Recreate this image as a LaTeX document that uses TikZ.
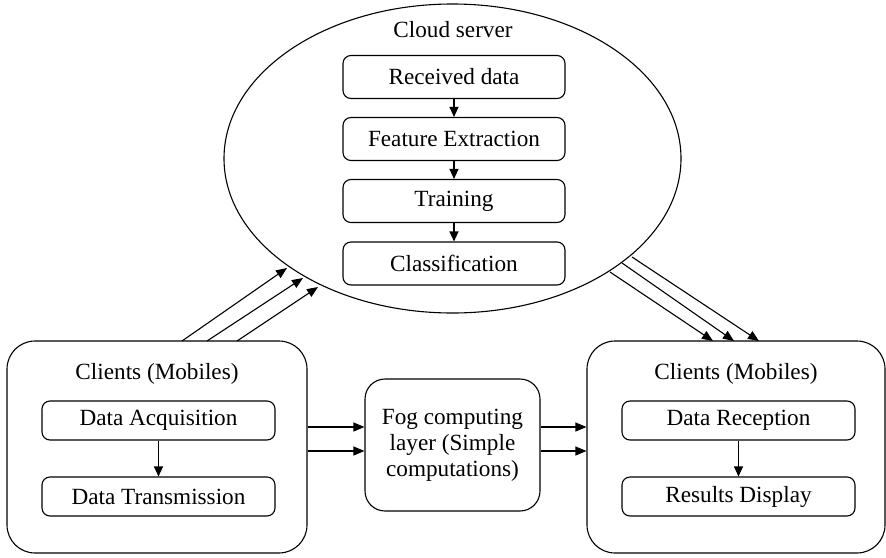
\documentclass[tikz,border=0pt]{standalone}
\usepackage{fontspec}
\setmainfont{Liberation Serif}
\usetikzlibrary{shapes.geometric,arrows.meta,calc}
\begin{document}
\begin{tikzpicture}[x=1pt,y=-1pt,
  font=\rmfamily\fontsize{23.2}{26}\selectfont,
  line width=1.1pt,
  inbox/.style={draw,rounded corners=8pt,minimum width=222pt,minimum height=43pt,inner sep=0pt},
  clbox/.style={draw,rounded corners=8pt,minimum width=233pt,minimum height=39pt,inner sep=0pt},
  outbox/.style={draw,rounded corners=28pt,minimum width=300pt,minimum height=212pt,inner sep=0pt},
  arr/.style={-{Triangle[length=11pt,width=9pt]}},
  sarr/.style={-{Triangle[length=10pt,width=9pt]}}
]
\useasboundingbox (0,0) rectangle (886,557);

% cloud
\node[draw,ellipse,minimum width=457pt,minimum height=309pt,inner sep=0pt] (cloud) at (452.5,158.5) {};
\node (cloudlbl) at (453,30) {Cloud server};
\node[inbox] (rd) at (454,77) {Received data};
\node[inbox] (fe) at (454,139) {Feature Extraction};
\node[inbox] (tr) at (454,201) {Training};
\node[inbox] (cl) at (454,263.5) {Classification};
\draw[sarr] (rd) -- (fe);
\draw[sarr] (fe) -- (tr);
\draw[sarr] (tr) -- (cl);

% left clients
\node[outbox] (lc) at (157,447) {};
\node (lclbl) at (157,374) {Clients (Mobiles)};
\node[clbox] (da) at (158.5,420.5) {Data Acquisition};
\node[clbox] (dt) at (158.5,496.5) {Data Transmission};
\draw[sarr] (da) -- (dt);

% right clients
\node[outbox,minimum width=298pt] (rc) at (736,447) {};
\node (rclbl) at (736,374) {Clients (Mobiles)};
\node[clbox] (dr) at (738.5,420.5) {Data Reception};
\node[clbox] (rdp) at (738.5,496.5) {Results Display};
\draw[sarr] (dr) -- (rdp);

% fog
\node[draw,rounded corners=20pt,minimum width=175pt,minimum height=132pt,inner sep=0pt,align=center] (fog) at (452.5,445) {Fog computing\\layer (Simple\\computations)};

% horizontal arrows
\coordinate (h1) at (0,427);
\coordinate (h2) at (0,451);
\draw[arr] (lc.east |- h1) -- (fog.west |- h1);
\draw[arr] (lc.east |- h2) -- (fog.west |- h2);
\draw[arr] (fog.east |- h1) -- (rc.west |- h1);
\draw[arr] (fog.east |- h2) -- (rc.west |- h2);

% left clients to cloud
\coordinate (ls1) at (182,341); \coordinate (le1) at (287,268);
\coordinate (ls2) at (207,341); \coordinate (le2) at (303,278);
\coordinate (ls3) at (237,341); \coordinate (le3) at (318,287);
\draw[arr] (ls1) -- (le1);
\draw[arr] (ls2) -- (le2);
\draw[arr] (ls3) -- (le3);

% cloud to right clients
\coordinate (rs1) at (610,272); \coordinate (re1) at (713,341);
\coordinate (rs2) at (622,263); \coordinate (re2) at (734,341);
\coordinate (rs3) at (632,257); \coordinate (re3) at (759,341);
\draw[arr] (rs1) -- (re1);
\draw[arr] (rs2) -- (re2);
\draw[arr] (rs3) -- (re3);
\end{tikzpicture}
\end{document}
